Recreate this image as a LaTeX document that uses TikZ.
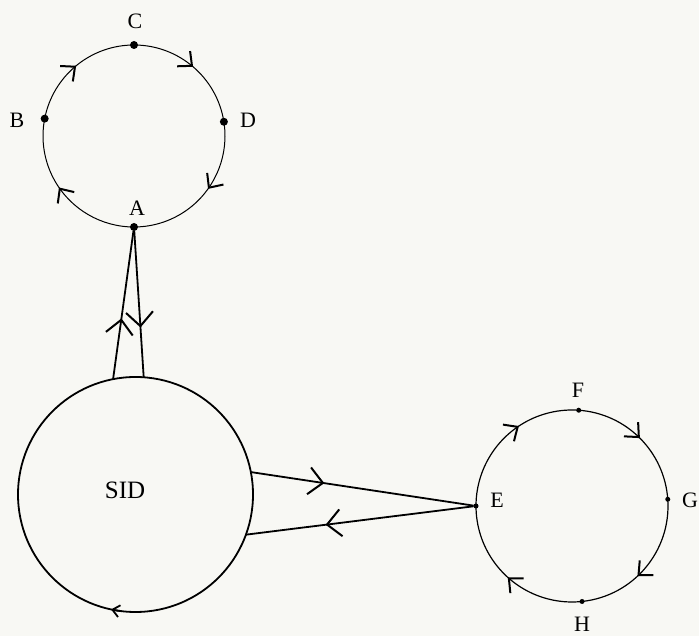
\documentclass[tikz,border=0pt]{standalone}
\usepackage{fontspec}
\setmainfont{Liberation Serif}
\usetikzlibrary{arrows.meta,decorations.markings}
\definecolor{paper}{RGB}{248,248,244}
\begin{document}
\begin{tikzpicture}[x=1pt,y=1pt,
  dot/.style={circle,fill=black,inner sep=0pt,outer sep=0pt,minimum size=8pt},
  sdot/.style={circle,fill=black,inner sep=0pt,outer sep=0pt,minimum size=5pt},
  lbl/.style={font=\fontsize{22}{22}\selectfont,inner sep=0pt},
  ring/.style={line width=1pt},
  ringb/.style={line width=1.2pt},
  conn/.style={line width=1.8pt},
  ringarrow/.style={decoration={markings,mark=at position #1 with {\arrow[line width=2pt]{Straight Barb[length=11pt,width=20pt]}}},postaction={decorate}},
  ringarrow/.default=0.5,
  midarrow/.style={decoration={markings,mark=at position #1 with {\arrow[line width=2pt]{Straight Barb[length=14pt,width=27pt]}}},postaction={decorate}},
  midarrow/.default=0.5,
  bigcirc/.style={circle,draw,line width=1.8pt,minimum size=235pt,inner sep=0pt,outer sep=0pt}
]
\fill[paper] (0,0) rectangle (699,636);
\useasboundingbox (0,0) rectangle (699,636);

% top circle
\coordinate (topc) at (134,500);
\node[dot] (C) at ([shift={(90:91)}]topc) {};
\node[dot] (B) at ([shift={(169:91)}]topc) {};
\node[dot] (D) at ([shift={(9:91)}]topc) {};
\node[dot] (A) at ([shift={(270:91)}]topc) {};
\draw[ring,ringarrow=0.55] (A.center) arc[start angle=270,end angle=169,radius=91];
\draw[ring,ringarrow] (B.center) arc[start angle=169,end angle=90,radius=91];
\draw[ring,ringarrow] (C.center) arc[start angle=90,end angle=9,radius=91];
\draw[ring,ringarrow=0.45] (D.center) arc[start angle=9,end angle=-90,radius=91];
\node[lbl] (lC) at (135,615) {C};
\node[lbl] (lB) at (17,516) {B};
\node[lbl] (lD) at (248,516) {D};
\node[lbl] (lA) at (137,428) {A};

% SID
\coordinate (sidc) at (135.5,141.5);
\node[bigcirc] (SID) at (sidc) {};
\node[font=\fontsize{25}{25}\selectfont,inner sep=0pt] (sidlbl) at (125,146) {SID};
\draw[conn,-{Straight Barb[length=7pt,width=12pt]}] ([shift={(-97:117.5)}]sidc) arc[start angle=-97,end angle=-102,radius=117.5];

% A <-> SID
\draw[conn,midarrow=0.41] (SID.101) -- (A);
\draw[conn,midarrow=0.66] (A) -- (SID.86);

% right circle
\coordinate (rc) at (572,130);
\node[sdot] (E) at ([shift={(180:96)}]rc) {};
\node[sdot] (F) at ([shift={(86:96)}]rc) {};
\node[sdot] (G) at ([shift={(4:96)}]rc) {};
\node[sdot] (H) at ([shift={(-84:96)}]rc) {};
\draw[ringb,ringarrow=0.6] (E.center) arc[start angle=180,end angle=86,radius=96];
\draw[ringb,ringarrow] (F.center) arc[start angle=86,end angle=4,radius=96];
\draw[ringb,ringarrow=0.58] (G.center) arc[start angle=4,end angle=-84,radius=96];
\draw[ringb,ringarrow] (H.center) arc[start angle=-84,end angle=-180,radius=96];
\node[lbl] (lF) at (578,246) {F};
\node[lbl] (lG) at (690,136) {G};
\node[lbl] (lH) at (582,12) {H};
\node[lbl] (lE) at (497,136) {E};

% SID <-> E
\draw[conn,midarrow=0.33] (SID.11) -- (E);
\draw[conn,midarrow=0.65] (E) -- (SID.-20);
\end{tikzpicture}
\end{document}
